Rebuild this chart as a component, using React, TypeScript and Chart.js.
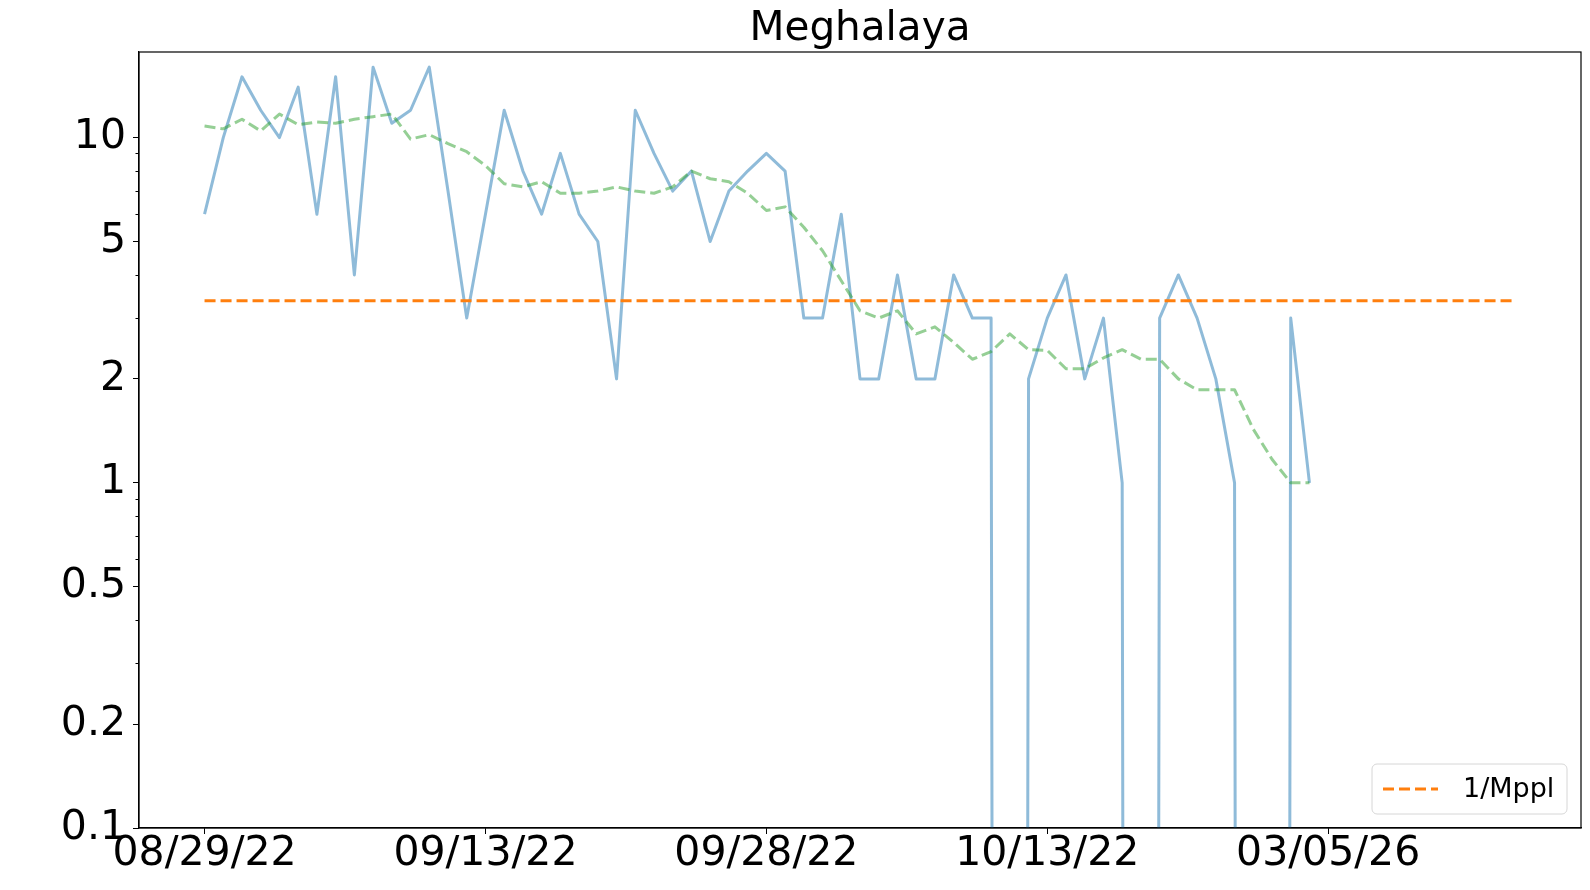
import { useEffect, useRef } from "react";
import { Chart, registerables } from "chart.js";

Chart.register(...registerables);

const TITLE = "Meghalaya";
const FONT = '"DejaVu Sans", "Liberation Sans", sans-serif';

// day offsets from 08/29/22
const DAYS = [
  0, 1, 2, 3, 4, 5, 6, 7, 8, 9, 10, 11, 12, 13, 14, 15, 16, 17, 18, 19,
  20, 21, 22, 23, 24, 25, 26, 27, 28, 29, 30, 31, 32, 33, 34, 35, 36, 37, 38, 39,
  40, 41, 42, 43, 44, 45, 46, 47, 48, 49, 50, 51, 52, 53, 54, 55, 56, 57, 58, 59,
];

const DAILY = [
  6, 10, 15, 12, 10, 14, 6, 15, 4, 16, 11, 12, 16, 7, 3, 6, 12, 8, 6, 9,
  6, 5, 2, 12, 9, 7, 8, 5, 7, 8, 9, 8, 3, 3, 6, 2, 2, 4, 2, 2,
  4, 3, 3, 0, 2, 3, 4, 2, 3, 1, 0, 3, 4, 3, 2, 1, 0, 0, 3, 1,
];

const AVERAGE = [
  10.8, 10.6, 11.3, 10.45, 11.7, 10.9, 11.1, 11.0, 11.3, 11.5, 11.7, 9.9, 10.2, 9.6, 9.1, 8.3, 7.35, 7.2, 7.45, 6.9,
  6.9, 7.0, 7.2, 7.0, 6.9, 7.2, 8.0, 7.6, 7.45, 6.9, 6.15, 6.3, 5.5, 4.7, 3.85, 3.15, 3.0, 3.15, 2.7, 2.83,
  2.55, 2.28, 2.4, 2.7, 2.43, 2.42, 2.14, 2.14, 2.3, 2.43, 2.28, 2.28, 2.0, 1.86, 1.86, 1.86, 1.43, 1.17, 1.0, 1.0,
];

const THRESHOLD_LABEL = "1/Mppl";
const THRESHOLD_VALUE = 3.37;
const THRESHOLD_DAYS = [0, 70];

const X_TICK_DAYS = [0, 15, 30, 45, 60];
const X_TICK_LABELS = ["08/29/22", "09/13/22", "09/28/22", "10/13/22", "03/05/26"];
const Y_MAJOR = [0.1, 0.2, 0.5, 1, 2, 5, 10];
const Y_MINOR = [0.3, 0.4, 0.6, 0.7, 0.8, 0.9, 3, 4, 6, 7, 8, 9];

const X_MIN = -3.5;
const X_MAX = 73.5;
const Y_MIN = 0.1;
const Y_MAX = 17.7;

// zero counts fall to -infinity on a log axis (as in matplotlib)
const LOG_ZERO = 1e-30;

const decorPlugin = {
  id: "decor",
  afterDraw(chart: any) {
    const { ctx, chartArea } = chart;
    const { left, right, top, bottom } = chartArea;
    ctx.save();
    // spines
    ctx.strokeStyle = "#000";
    ctx.lineWidth = 1.2;
    ctx.strokeRect(left, top, right - left, bottom - top);
    // minor ticks
    const y = chart.scales.y;
    ctx.lineWidth = 1;
    ctx.beginPath();
    Y_MINOR.forEach((v) => {
      const py = Math.round(y.getPixelForValue(v)) + 0.5;
      ctx.moveTo(left, py);
      ctx.lineTo(left - 3.5, py);
    });
    ctx.stroke();
    // title
    ctx.fillStyle = "#000";
    ctx.font = `40.5px ${FONT}`;
    ctx.textAlign = "center";
    ctx.textBaseline = "alphabetic";
    ctx.fillText(TITLE, (left + right) / 2, 40);
    // legend
    const bx = right - 209;
    const by = bottom - 64;
    const bw = 195;
    const bh = 50;
    ctx.beginPath();
    ctx.roundRect(bx, by, bw, bh, 5);
    ctx.fillStyle = "rgba(255,255,255,0.8)";
    ctx.fill();
    ctx.strokeStyle = "#d6d6d6";
    ctx.lineWidth = 1;
    ctx.stroke();
    const ly = by + bh / 2;
    ctx.beginPath();
    ctx.setLineDash([11, 5]);
    ctx.strokeStyle = "#ff7f0e";
    ctx.lineWidth = 3;
    ctx.moveTo(bx + 11, ly);
    ctx.lineTo(bx + 66, ly);
    ctx.stroke();
    ctx.setLineDash([]);
    ctx.fillStyle = "#000";
    ctx.font = `27px ${FONT}`;
    ctx.textAlign = "left";
    ctx.textBaseline = "middle";
    ctx.fillText(THRESHOLD_LABEL, bx + 91, ly + 1);
    ctx.restore();
  },
};

export default function App() {
  const ref = useRef<HTMLCanvasElement | null>(null);

  useEffect(() => {
    if (!ref.current) return;
    const chart = new Chart(ref.current, {
      type: "line",
      data: {
        datasets: [
          {
            label: "daily",
            data: DAYS.map((d, i) => ({ x: d, y: DAILY[i] === 0 ? LOG_ZERO : DAILY[i] })),
            borderColor: "rgba(31,119,180,0.5)",
            borderWidth: 3,
            borderJoinStyle: "round",
            pointRadius: 0,
            tension: 0,
            order: 3,
          },
          {
            label: THRESHOLD_LABEL,
            data: THRESHOLD_DAYS.map((d) => ({ x: d, y: THRESHOLD_VALUE })),
            borderColor: "#ff7f0e",
            borderWidth: 3,
            borderDash: [11, 5],
            pointRadius: 0,
            order: 2,
          },
          {
            label: "average",
            data: DAYS.map((d, i) => ({ x: d, y: AVERAGE[i] })),
            borderColor: "rgba(44,160,44,0.5)",
            borderWidth: 3,
            borderDash: [11, 5],
            borderJoinStyle: "round",
            pointRadius: 0,
            tension: 0,
            order: 1,
          },
        ],
      },
      options: {
        responsive: false,
        animation: false,
        devicePixelRatio: 1,
        layout: { padding: { top: 52, right: 9, left: 0, bottom: 0 } },
        plugins: {
          legend: { display: false },
          title: { display: false },
          tooltip: { enabled: false },
        },
        scales: {
          x: {
            type: "linear",
            min: X_MIN,
            max: X_MAX,
            afterBuildTicks: (scale: any) => {
              scale.ticks = X_TICK_DAYS.map((v) => ({ value: v }));
            },
            afterFit: (scale: any) => {
              scale.height = 62;
            },
            ticks: {
              autoSkip: false,
              maxRotation: 0,
              minRotation: 0,
              padding: 0,
              color: "#000",
              font: { family: FONT, size: 41, lineHeight: 1 },
              callback: (_v: any, i: number) => X_TICK_LABELS[i],
            },
            grid: {
              display: true,
              drawOnChartArea: false,
              drawTicks: true,
              tickLength: 6,
              color: "#000",
              tickWidth: 1,
            },
            border: { display: true, color: "#000", width: 1.2 },
          },
          y: {
            type: "logarithmic",
            min: Y_MIN,
            max: Y_MAX,
            afterBuildTicks: (scale: any) => {
              scale.ticks = Y_MAJOR.map((v) => ({ value: v }));
            },
            afterFit: (scale: any) => {
              scale.width = 139;
            },
            ticks: {
              autoSkip: false,
              padding: 7,
              color: "#000",
              font: { family: FONT, size: 41, lineHeight: 1 },
              callback: (v: any) => String(v),
            },
            grid: {
              display: true,
              drawOnChartArea: false,
              drawTicks: true,
              tickLength: 6,
              color: "#000",
              tickWidth: 1,
            },
            border: { display: true, color: "#000", width: 1.2 },
          },
        },
      },
      plugins: [decorPlugin],
    } as any);
    return () => chart.destroy();
  }, []);

  return (
    <div style={{ position: "fixed", left: 0, top: 0, width: 1590, height: 890, background: "#fff" }}>
      <canvas ref={ref} width={1590} height={890} style={{ display: "block", width: 1590, height: 890 }} />
    </div>
  );
}
